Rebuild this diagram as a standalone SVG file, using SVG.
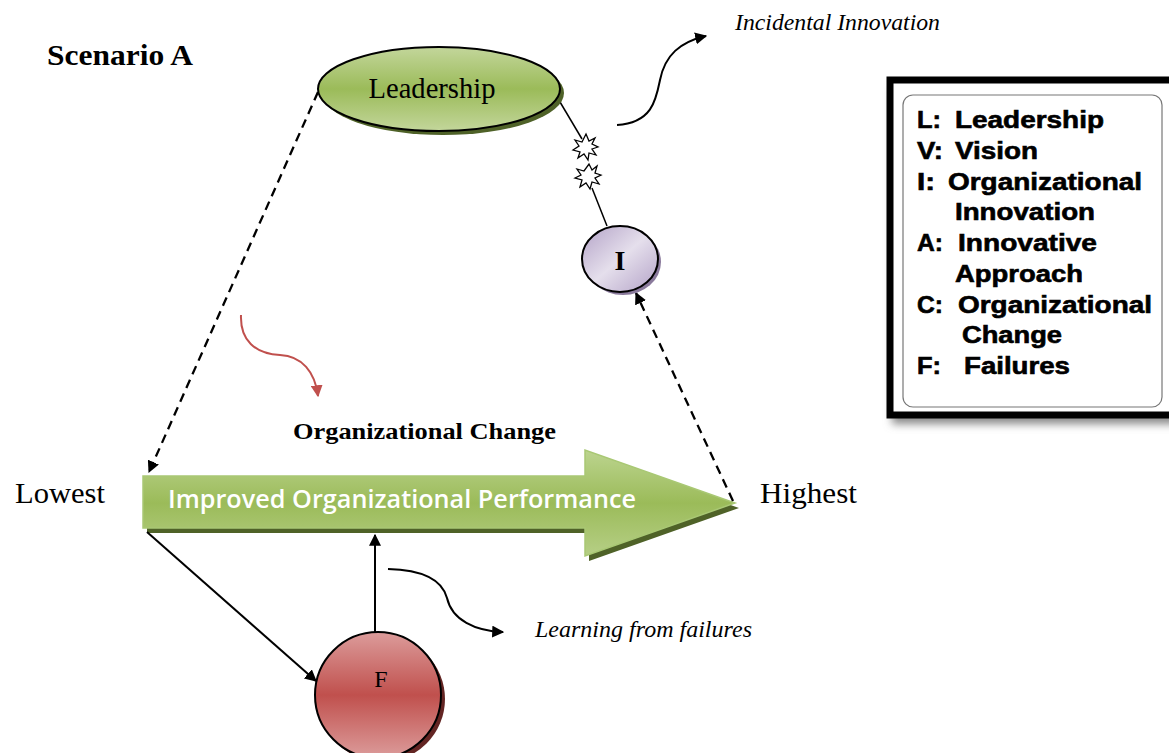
<svg xmlns="http://www.w3.org/2000/svg" width="1169" height="753" viewBox="0 0 1169 753">
<style>
.serif{font-family:"Liberation Serif","Times New Roman",serif;fill:#000}
.leg{font-family:"Liberation Sans",Arial,sans-serif;font-weight:bold;font-size:23px;fill:#000;stroke:#000;stroke-width:0.6}
.conn{fill:none;stroke:#000;stroke-width:2}
.dash{stroke-dasharray:9,6;stroke-width:2.3}
</style>
<defs>
<marker id="ah2" viewBox="0 0 10 10" refX="9" refY="5" markerWidth="12" markerHeight="12" orient="auto" markerUnits="userSpaceOnUse">
<path d="M0,0 L10,5 L0,10 Z" fill="#000"/>
</marker>
<marker id="ahr" viewBox="0 0 10 10" refX="9" refY="5" markerWidth="12" markerHeight="12" orient="auto" markerUnits="userSpaceOnUse">
<path d="M0,0 L10,5 L0,10 Z" fill="#c0504d"/>
</marker>
<linearGradient id="gGreen" x1="0" y1="0" x2="0" y2="1">
<stop offset="0" stop-color="#c3d69b"/>
<stop offset="0.5" stop-color="#9bbb59"/>
<stop offset="1" stop-color="#c3d69b"/>
</linearGradient>
<linearGradient id="gArrow" x1="0" y1="0" x2="0" y2="1">
<stop offset="0" stop-color="#bcd48f"/>
<stop offset="0.5" stop-color="#9bbb59"/>
<stop offset="1" stop-color="#b6cf86"/>
</linearGradient>
<linearGradient id="gRed" x1="0" y1="0" x2="0" y2="1">
<stop offset="0" stop-color="#dc9c9b"/>
<stop offset="0.5" stop-color="#c0504d"/>
<stop offset="1" stop-color="#dc9c9b"/>
</linearGradient>
<linearGradient id="gPurple" x1="0" y1="0" x2="1" y2="1">
<stop offset="0" stop-color="#b3a2c7"/>
<stop offset="0.5" stop-color="#e5dfec"/>
<stop offset="1" stop-color="#b3a2c7"/>
</linearGradient>
<filter id="blur" x="-10%" y="-10%" width="120%" height="130%">
<feGaussianBlur stdDeviation="4"/>
</filter>
</defs>
<rect width="1169" height="753" fill="#fff"/>

<text class="serif" x="47" y="65" font-size="30" font-weight="bold" textLength="146" lengthAdjust="spacingAndGlyphs">Scenario A</text>

<g id="legend">
<rect x="892" y="88" width="290" height="336" fill="#888" filter="url(#blur)"/>
<rect x="890" y="80" width="290" height="335" fill="#fff" stroke="#000" stroke-width="7"/>
<rect x="903" y="95" width="259" height="312" rx="10" fill="none" stroke="#777" stroke-width="1.2"/>
<text class="leg" x="917" y="128" textLength="24" lengthAdjust="spacingAndGlyphs">L:</text><text class="leg" x="955" y="128" textLength="149" lengthAdjust="spacingAndGlyphs">Leadership</text>
<text class="leg" x="917" y="159" textLength="26" lengthAdjust="spacingAndGlyphs">V:</text><text class="leg" x="955" y="159" textLength="83" lengthAdjust="spacingAndGlyphs">Vision</text>
<text class="leg" x="917" y="190" textLength="18" lengthAdjust="spacingAndGlyphs">I:</text><text class="leg" x="948" y="190" textLength="194" lengthAdjust="spacingAndGlyphs">Organizational</text>
<text class="leg" x="955" y="220" textLength="140" lengthAdjust="spacingAndGlyphs">Innovation</text>
<text class="leg" x="917" y="251" textLength="26" lengthAdjust="spacingAndGlyphs">A:</text><text class="leg" x="958" y="251" textLength="139" lengthAdjust="spacingAndGlyphs">Innovative</text>
<text class="leg" x="955" y="282" textLength="128" lengthAdjust="spacingAndGlyphs">Approach</text>
<text class="leg" x="917" y="313" textLength="26" lengthAdjust="spacingAndGlyphs">C:</text><text class="leg" x="958" y="313" textLength="194" lengthAdjust="spacingAndGlyphs">Organizational</text>
<text class="leg" x="962" y="343" textLength="100" lengthAdjust="spacingAndGlyphs">Change</text>
<text class="leg" x="917" y="374" textLength="24" lengthAdjust="spacingAndGlyphs">F:</text><text class="leg" x="964" y="374" textLength="106" lengthAdjust="spacingAndGlyphs">Failures</text>
</g>

<g id="performance-arrow">
<path d="M147,481 L589,481 L589,455 L739,508 L589,561 L589,533 L147,533 Z" fill="#4f6228"/>
<path d="M143,476 L585,476 L585,450 L735,503 L585,556 L585,528 L143,528 Z" fill="url(#gArrow)" stroke="#a9c874" stroke-width="1.5"/>
<text x="168" y="508" font-family="'Open Sans','Liberation Sans',sans-serif" font-weight="600" font-size="25" fill="#fff" textLength="468" lengthAdjust="spacingAndGlyphs">Improved Organizational Performance</text>
</g>

<g id="connectors">
<line class="conn dash" x1="318" y1="92" x2="149" y2="472" marker-end="url(#ah2)"/>
<line class="conn dash" x1="733" y1="501" x2="636" y2="293" marker-end="url(#ah2)"/>
<line class="conn" x1="147" y1="532" x2="316" y2="681" marker-end="url(#ah2)"/>
<line class="conn" x1="375" y1="632" x2="375" y2="535" marker-end="url(#ah2)"/>
<path class="conn" d="M617,125 C652,123 656,100 660,80 C665,55 680,42 706,36" marker-end="url(#ah2)"/>
<path class="conn" d="M388,569 C428,570 443,583 447,598 C452,620 475,631 503,632" marker-end="url(#ah2)"/>
<path d="M241,315 C240,340 255,354 280,355 C302,356 315,372 318,396" fill="none" stroke="#c0504d" stroke-width="2" marker-end="url(#ahr)"/>
<line x1="560" y1="102" x2="582" y2="139" stroke="#000" stroke-width="1.5"/>
<line x1="592" y1="188" x2="607" y2="226" stroke="#000" stroke-width="1.5"/>
<polygon points="586,134 589,141 595,138 592,144 598,147 592,149 596,155 589,153 588,160 584,154 578,158 580,152 573,150 579,146 575,140 582,142" fill="#fff" stroke="#000" stroke-width="1.3"/>
<polygon points="589,164 592,170 597,166 595,173 601,175 595,178 599,184 592,182 590,189 586,183 580,187 582,180 575,178 581,175 577,169 584,171" fill="#fff" stroke="#000" stroke-width="1.3"/>
</g>

<g id="leadership">
<ellipse cx="443" cy="93" rx="121" ry="42" fill="#4f6228"/>
<ellipse cx="439" cy="89" rx="121" ry="42" fill="url(#gGreen)" stroke="#000" stroke-width="2"/>
<text class="serif" x="432" y="98" font-size="29" text-anchor="middle" textLength="127" lengthAdjust="spacingAndGlyphs">Leadership</text>
</g>

<g id="node-I">
<ellipse cx="623" cy="262" rx="38" ry="33" fill="#8a7a9c"/>
<ellipse cx="620" cy="259" rx="38" ry="33" fill="url(#gPurple)" stroke="#000" stroke-width="2"/>
<text class="serif" x="620" y="270" font-size="28" font-weight="bold" text-anchor="middle">I</text>
</g>

<g id="node-F">
<circle cx="382" cy="699" r="63" fill="#632523"/>
<circle cx="378" cy="695" r="63" fill="url(#gRed)" stroke="#000" stroke-width="2"/>
<text class="serif" x="381" y="687" font-size="24" text-anchor="middle">F</text>
</g>

<text class="serif" x="293" y="439" font-size="23" font-weight="bold" textLength="263" lengthAdjust="spacingAndGlyphs">Organizational Change</text>
<text class="serif" x="15" y="503" font-size="30" textLength="90" lengthAdjust="spacingAndGlyphs">Lowest</text>
<text class="serif" x="760" y="503" font-size="30" textLength="97" lengthAdjust="spacingAndGlyphs">Highest</text>
<text class="serif" x="735" y="30" font-size="23" font-style="italic" textLength="205" lengthAdjust="spacingAndGlyphs">Incidental Innovation</text>
<text class="serif" x="535" y="637" font-size="23" font-style="italic" textLength="217" lengthAdjust="spacingAndGlyphs">Learning from failures</text>
</svg>
